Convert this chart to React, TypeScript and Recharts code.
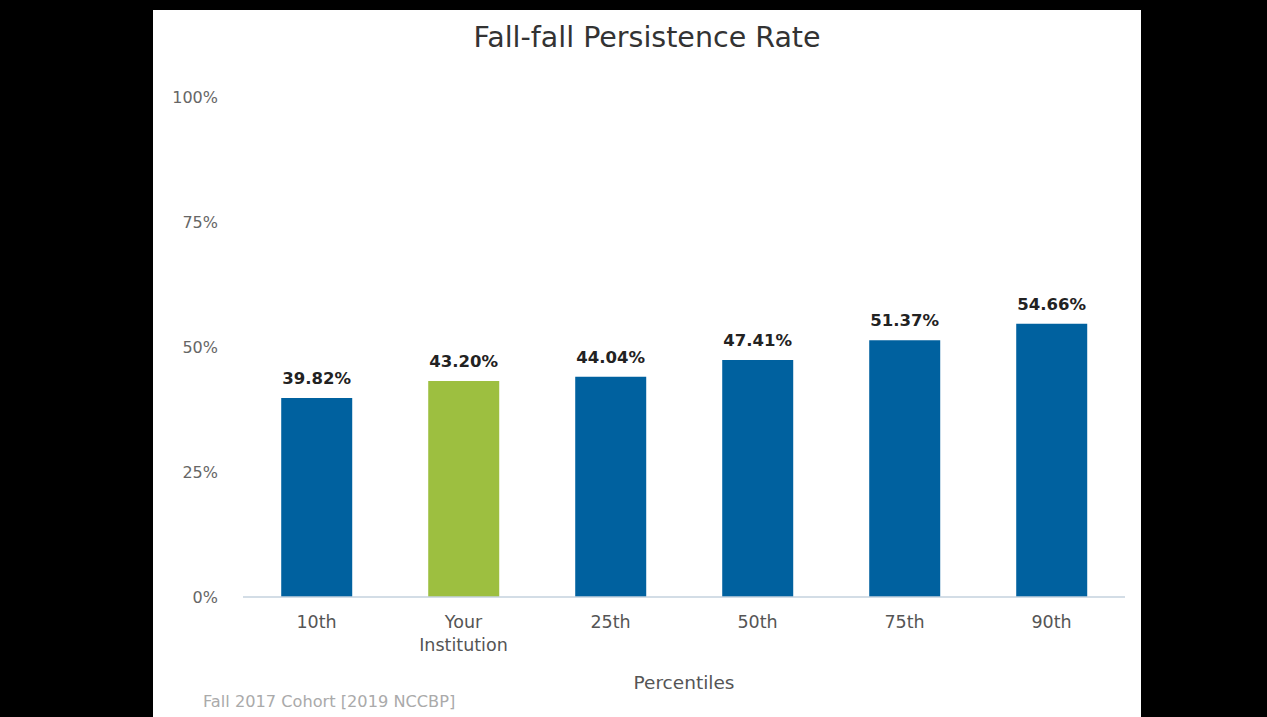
import React from "react"
import { BarChart, Bar, XAxis, YAxis, LabelList, Cell } from "recharts"

const categories = ["10th", "Your Institution", "25th", "50th", "75th", "90th"]
const rates = [39.82, 43.2, 44.04, 47.41, 51.37, 54.66]
const yTicks = [0, 25, 50, 75, 100]
const highlight = "Your Institution"

const data = categories.map((name, i) => ({ name, rate: rates[i] }))

const FONT = "'DejaVu Sans', Verdana, sans-serif"

// splits "Your Institution" into two lines like the original
function CategoryTick(props: any) {
  const { x, y, payload } = props
  const lines = String(payload.value).split(" ")
  return (
    <text x={x} y={y} textAnchor="middle" fill="#555" fontSize={17.5} fontFamily={FONT}>
      {lines.map((line, i) => (
        <tspan key={i} x={x} dy={i === 0 ? 23 : 23}>
          {line}
        </tspan>
      ))}
    </text>
  )
}

export default function App() {
  return (
    <div style={{ position: "fixed", inset: 0, background: "#000" }}>
      <div
        style={{
          position: "absolute",
          left: 153,
          top: 10,
          width: 988,
          height: 707,
          background: "#fff",
          fontFamily: FONT,
        }}
      >
        <div
          style={{
            position: "absolute",
            top: 11,
            width: "100%",
            textAlign: "center",
            fontSize: 28.5,
            color: "#333",
          }}
        >
          Fall-fall Persistence Rate
        </div>

        <BarChart
          width={988}
          height={707}
          data={data}
          margin={{ top: 87, right: 16, bottom: 60, left: 0 }}
          barCategoryGap="26%"
        >
          <YAxis
            domain={[0, 100]}
            ticks={yTicks}
            width={90}
            tickFormatter={(v) => `${v}%`}
            axisLine={false}
            tickLine={false}
            tickSize={0}
            tickMargin={25}
            tick={{ fill: "#666", fontSize: 16, fontFamily: FONT }}
          />
          <XAxis
            dataKey="name"
            height={60}
            axisLine={{ stroke: "#c4d2de", strokeWidth: 1.5 }}
            tickLine={false}
            tick={<CategoryTick />}
            interval={0}
          />
          <Bar dataKey="rate" isAnimationActive={false}>
            {data.map((d) => (
              <Cell key={d.name} fill={d.name === highlight ? "#9dbf40" : "#00619f"} />
            ))}
            <LabelList
              dataKey="rate"
              position="top"
              offset={14}
              formatter={(v: any) => `${Number(v).toFixed(2)}%`}
              style={{ fill: "#222", fontSize: 16.5, fontWeight: "bold", fontFamily: FONT }}
            />
          </Bar>
        </BarChart>

        <div
          style={{
            position: "absolute",
            top: 662,
            left: 90,
            width: 882,
            textAlign: "center",
            fontSize: 18.5,
            color: "#555",
          }}
        >
          Percentiles
        </div>
        <div
          style={{
            position: "absolute",
            top: 682,
            left: 50,
            fontSize: 16.2,
            color: "#aaa",
          }}
        >
          Fall 2017 Cohort [2019 NCCBP]
        </div>
      </div>
    </div>
  )
}
